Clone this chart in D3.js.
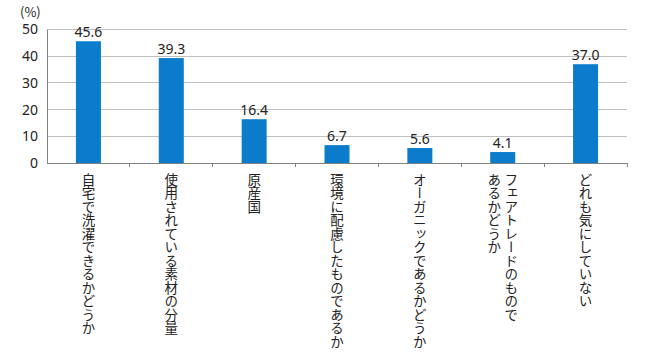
<!DOCTYPE html>
<html><head><meta charset="utf-8">
<script src="https://cdn.jsdelivr.net/npm/d3@7"></script>
<style>
body{margin:0;background:#fff;}
svg{display:block;font-family:"Noto Sans CJK JP","Noto Sans",sans-serif;}
</style></head>
<body>
<svg id="c" width="650" height="360"></svg>
<script>
const categories = [
  ["自宅で洗濯できるかどうか"],
  ["使用されている素材の分量"],
  ["原産国"],
  ["環境に配慮したものであるか"],
  ["オーガニックであるかどうか"],
  ["フェアトレードのもので","あるかどうか"],
  ["どれも気にしていない"]
];
const values = [45.6, 39.3, 16.4, 6.7, 5.6, 4.1, 37.0];
const yTicks = [0, 10, 20, 30, 40, 50];
const unitLabel = "(%)";

const svg = d3.select("#c");
const x0 = 47, x1 = 627, yTop = 29.5, yBot = 163;
const x = d3.scaleBand().domain(d3.range(categories.length)).range([x0, x1]);
const y = d3.scaleLinear().domain([0, 50]).range([yBot, yTop]);

// gridlines
svg.append("g").selectAll("line").data(yTicks.filter(d => d > 0)).join("line")
  .attr("x1", x0).attr("x2", x1)
  .attr("y1", d => y(d)).attr("y2", d => y(d))
  .attr("stroke", "#bfbfbf").attr("stroke-width", 1).attr("shape-rendering","crispEdges");

// y axis
const ya = svg.append("g").attr("transform", `translate(${x0},0)`)
  .call(d3.axisLeft(y).tickValues(yTicks).tickSize(0).tickPadding(9));
ya.select(".domain").attr("stroke", "#808080").attr("shape-rendering","crispEdges");
ya.selectAll("text").attr("font-size", 14).attr("fill", "#222")
  .attr("font-family", '"Noto Sans","Noto Sans CJK JP",sans-serif');

// bars
const bw = 25;
svg.append("g").selectAll("rect").data(values).join("rect")
  .attr("x", (d, i) => x(i) + x.bandwidth() / 2 - bw / 2)
  .attr("width", bw)
  .attr("y", d => y(d))
  .attr("height", d => yBot - y(d))
  .attr("fill", "#0a7ccb");

// value labels
svg.append("g").selectAll("text").data(values).join("text")
  .attr("x", (d, i) => x(i) + x.bandwidth() / 2)
  .attr("y", d => y(d) - 4)
  .attr("text-anchor", "middle")
  .attr("font-size", 14).attr("fill", "#222")
  .attr("font-family", '"Noto Sans","Noto Sans CJK JP",sans-serif')
  .text(d => d.toFixed(1));

// x baseline with boundary ticks
svg.append("line").attr("x1", x0).attr("x2", x1).attr("y1", yBot).attr("y2", yBot)
  .attr("stroke", "#808080").attr("shape-rendering","crispEdges");
svg.append("g").selectAll("line").data(d3.range(1, categories.length + 1)).join("line")
  .attr("x1", i => x0 + i * x.step()).attr("x2", i => x0 + i * x.step())
  .attr("y1", yBot).attr("y2", yBot + 4)
  .attr("stroke", "#808080").attr("shape-rendering","crispEdges");

// vertical category labels
const lh = 17;
categories.forEach((lines, i) => {
  const cx = x(i) + x.bandwidth() / 2;
  const n = lines.length;
  lines.forEach((t, j) => {
    const colX = cx + ((n - 1) / 2 - j) * lh;
    svg.append("text")
      .attr("x", colX).attr("y", 173)
      .attr("writing-mode", "vertical-rl")
      .style("writing-mode", "vertical-rl")
      .attr("font-size", 13.5).attr("fill", "#222")
      .text(t);
  });
});

// unit label
svg.append("text").attr("x", 20).attr("y", 17)
  .attr("font-size", 13).attr("fill", "#222").text(unitLabel);
</script>
</body></html>
